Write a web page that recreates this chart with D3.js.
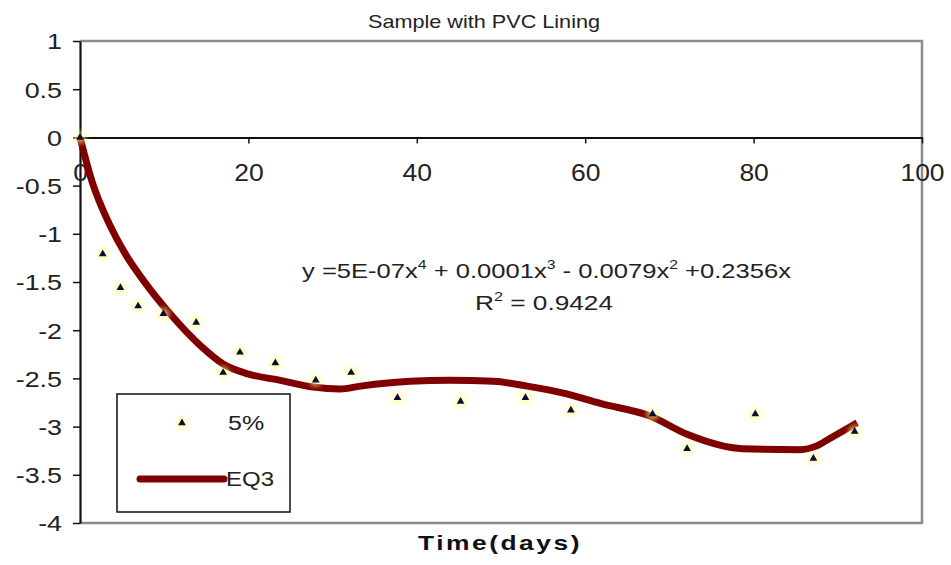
<!DOCTYPE html>
<html>
<head>
<meta charset="utf-8">
<script src="https://cdn.jsdelivr.net/npm/d3@7"></script>
<style>
  html, body { margin: 0; padding: 0; background: #fff; }
  svg { display: block; font-family: "Liberation Sans", Arial, sans-serif; }
</style>
</head>
<body>
<svg id="chart" width="951" height="565"></svg>
<script>
// ---------- data ----------
const title = "Sample with PVC Lining";
const xTitle = "Time(days)";
const xTicks = [0, 20, 40, 60, 80, 100];
const yTicks = [1, 0.5, 0, -0.5, -1, -1.5, -2, -2.5, -3, -3.5, -4];

// measured series "5%"
const obsDays = [0, 2.7, 4.8, 6.9, 9.9, 13.8, 17.0, 19.0, 23.2, 28.0, 32.2, 37.7, 45.2, 52.9, 58.3, 68.0, 72.1, 80.2, 87.1, 92.0];
const obsVals = [0, -1.21, -1.56, -1.75, -1.83, -1.92, -2.44, -2.23, -2.34, -2.52, -2.44, -2.70, -2.74, -2.70, -2.83, -2.87, -3.23, -2.87, -3.33, -3.05];

// fitted series "EQ3"
const eqDays = [0, 1.4, 3.6, 5.6, 7.5, 10.7, 14.3, 17.0, 19.8, 23.8, 27.7, 30.9, 33.3, 39.2, 43.9, 49.1, 53.1, 57.8, 61.8, 67.7, 72.1, 78.7, 85.5, 87.5, 89.1, 92.3];
const eqVals = [0, -0.45, -0.92, -1.24, -1.48, -1.83, -2.16, -2.35, -2.45, -2.52, -2.59, -2.61, -2.58, -2.53, -2.52, -2.53, -2.58, -2.66, -2.76, -2.89, -3.08, -3.23, -3.24, -3.20, -3.12, -2.96];

const seriesNames = ["5%", "EQ3"];
const eqLine1 = ["y =5E-07x", "4", " + 0.0001x", "3", " - 0.0079x", "2", " +0.2356x"];
const eqLine2 = ["R", "2", " = 0.9424"];

// ---------- layout ----------
const svg = d3.select("#chart");
const x = d3.scaleLinear().domain([0, 100]).range([80, 922]);
const y = d3.scaleLinear().domain([-4, 1]).range([523, 41]);
const HS = 1.22; // horizontal text stretch seen in the reference

function stretch(sel, k) {
  sel.each(function () {
    const w = this.getComputedTextLength();
    d3.select(this).attr("textLength", w * k).attr("lengthAdjust", "spacingAndGlyphs");
  });
}

const defs = svg.append("defs");
defs.append("filter").attr("id", "glow").attr("x", "-100%").attr("y", "-100%").attr("width", "300%").attr("height", "300%")
  .append("feGaussianBlur").attr("stdDeviation", 2.2);

// plot frame (gray top/right/bottom)
svg.append("path")
  .attr("d", `M${x(0)},${y(1)}H${x(100)}V${y(-4)}H${x(0)}`)
  .attr("fill", "none").attr("stroke", "#8c8c8c").attr("stroke-width", 2.5);

// y axis
const yAxis = svg.append("g").attr("transform", `translate(${x(0)},0)`)
  .call(d3.axisLeft(y).tickValues(yTicks).tickSize(7).tickSizeOuter(0).tickFormat(d => String(d)));
yAxis.select(".domain").attr("stroke", "#111").attr("stroke-width", 2.2);
yAxis.selectAll(".tick line").attr("stroke", "#111").attr("stroke-width", 1.5);
yAxis.selectAll(".tick text")
  .attr("x", -18).attr("dy", "0.36em")
  .attr("fill", "#222").style("font-size", "22px").style("font-family", "Liberation Sans, Arial, sans-serif")
  .call(stretch, HS);

// x axis at y = 0
const xAxis = svg.append("g").attr("transform", `translate(0,${y(0)})`)
  .call(d3.axisBottom(x).tickValues(xTicks).tickSize(6).tickSizeOuter(0).tickFormat(d => String(d)));
xAxis.select(".domain").attr("stroke", "#111").attr("stroke-width", 2);
xAxis.selectAll(".tick line").attr("stroke", "#111").attr("stroke-width", 1.5);
xAxis.selectAll(".tick text")
  .attr("y", 44).attr("dy", 0)
  .attr("fill", "#222").style("font-size", "23px").style("font-family", "Liberation Sans, Arial, sans-serif")
  .call(stretch, 1.15);

// title
svg.append("text").attr("x", 484).attr("y", 28).attr("text-anchor", "middle")
  .style("font-size", "19px").attr("fill", "#222").text(title)
  .attr("textLength", 232).attr("lengthAdjust", "spacingAndGlyphs");

// x axis title
svg.append("text").attr("x", 500).attr("y", 550).attr("text-anchor", "middle")
  .style("font-size", "21px").style("font-weight", "bold").style("letter-spacing", "2px")
  .attr("fill", "#111").text(xTitle)
  .attr("textLength", 164).attr("lengthAdjust", "spacingAndGlyphs");

// fitted line
const line = d3.line().x((d, i) => x(eqDays[i])).y(d => y(d)).curve(d3.curveMonotoneX);
svg.append("path").datum(eqVals).attr("d", line)
  .attr("fill", "none").attr("stroke", "#800000").attr("stroke-width", 7).attr("stroke-linejoin", "round");

// markers
const tri = d3.symbol().type(d3.symbolTriangle).size(26);
const obs = obsDays.map((d, i) => ({ d, v: obsVals[i] }));
const mk = svg.append("g");
mk.selectAll("circle").data(obs).join("circle")
  .attr("cx", p => x(p.d)).attr("cy", p => y(p.v)).attr("r", 6.5)
  .attr("fill", "#ffff80").attr("opacity", 0.55).attr("filter", "url(#glow)");
mk.selectAll("path").data(obs).join("path")
  .attr("transform", p => `translate(${x(p.d)},${y(p.v)})`).attr("d", tri).attr("fill", "#0a0a40");

// equation
const eq1 = svg.append("text").attr("x", 302).attr("y", 278).style("font-size", "21px").attr("fill", "#222");
eqLine1.forEach((s, i) => {
  const t = eq1.append("tspan").text(s);
  if (i % 2 === 1) t.style("font-size", "13px").attr("dy", -9);
  else if (i > 0) t.attr("dy", 9);
});
eq1.attr("textLength", 489).attr("lengthAdjust", "spacingAndGlyphs");

const eq2 = svg.append("text").attr("x", 475).attr("y", 310).style("font-size", "21px").attr("fill", "#222");
eqLine2.forEach((s, i) => {
  const t = eq2.append("tspan").text(s);
  if (i % 2 === 1) t.style("font-size", "13px").attr("dy", -9);
  else if (i > 0) t.attr("dy", 9);
});
eq2.attr("textLength", 138).attr("lengthAdjust", "spacingAndGlyphs");

// legend
const lg = svg.append("g");
lg.append("rect").attr("x", 117).attr("y", 394).attr("width", 173).attr("height", 118)
  .attr("fill", "#fff").attr("stroke", "#111").attr("stroke-width", 1.5);
lg.append("circle").attr("cx", 182).attr("cy", 423).attr("r", 6.5)
  .attr("fill", "#ffff80").attr("opacity", 0.55).attr("filter", "url(#glow)");
lg.append("path").attr("transform", "translate(182,423)").attr("d", tri).attr("fill", "#0a0a40");
lg.append("text").attr("x", 228).attr("y", 430).style("font-size", "20px").attr("fill", "#222")
  .text(seriesNames[0]).call(stretch, 1.25);
lg.append("line").attr("x1", 140).attr("x2", 224).attr("y1", 479).attr("y2", 479)
  .attr("stroke", "#800000").attr("stroke-width", 7).attr("stroke-linecap", "round");
lg.append("text").attr("x", 226).attr("y", 486).style("font-size", "20px").attr("fill", "#222")
  .text(seriesNames[1]).call(stretch, 1.2);
</script>
</body>
</html>
